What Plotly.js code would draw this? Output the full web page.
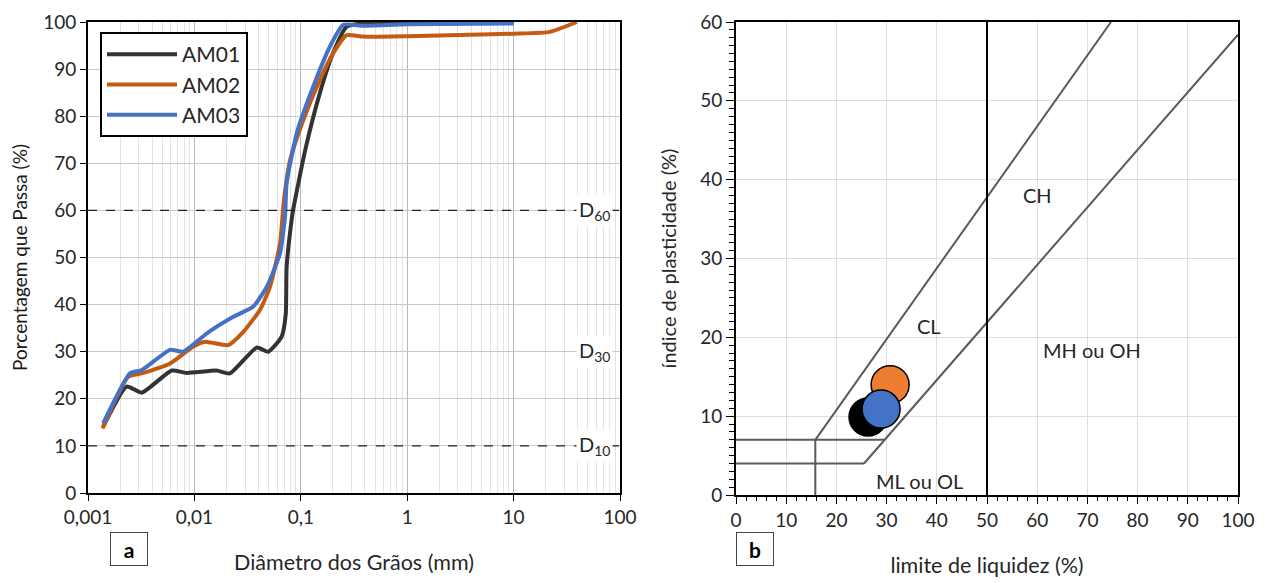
<!DOCTYPE html>
<html><head><meta charset="utf-8">
<script src="https://cdn.plot.ly/plotly-3.0.1.min.js"></script>
<style>html,body{margin:0;padding:0;background:#fff}#chart{width:1265px;height:583px}</style>
</head><body><div id="chart"></div>
<script>
// ---- Panel a: grain size distribution ----
const am01_d = [0.00139, 0.00231, 0.0032, 0.00612, 0.00847, 0.0162, 0.0216, 0.0386, 0.0496, 0.0661, 0.0722, 0.0736, 0.082, 0.0845, 0.11, 0.151, 0.201, 0.27, 0.4, 1, 10];
const am01_p = [14.1, 22.6, 21.3, 26.0, 25.5, 26.0, 25.4, 30.9, 30.0, 33.2, 38.0, 48, 58, 60, 72.8, 84.9, 93.4, 99.0, 99.8, 100, 100];
const am02_d = [0.00137, 0.00239, 0.0032, 0.0059, 0.00977, 0.0126, 0.0208, 0.0288, 0.0414, 0.0514, 0.0638, 0.0694, 0.0794, 0.1057, 0.151, 0.2018, 0.27, 0.386, 1, 10, 22, 39.2];
const am02_p = [13.7, 24.7, 25.4, 27.5, 31.1, 32.1, 31.4, 34.2, 38.9, 43.8, 53.0, 62.2, 70.7, 79.2, 87.7, 93.4, 97.2, 96.9, 97.0, 97.5, 97.9, 100];
const am03_d = [0.00139, 0.00248, 0.0032, 0.0059, 0.00787, 0.0131, 0.0232, 0.0358, 0.0479, 0.0638, 0.0711, 0.0736, 0.0916, 0.131, 0.188, 0.251, 0.386, 1, 10];
const am03_p = [14.8, 25.4, 26.1, 30.4, 30.0, 33.9, 37.4, 39.6, 43.8, 50.9, 58.7, 65.8, 76.4, 86.3, 94.8, 99.4, 99.2, 99.5, 99.7];
const sampleNames = ['AM01', 'AM02', 'AM03'];
const sampleColors = ['#333333', '#c55a11', '#4472c4'];
const xTickVals = [0.001, 0.01, 0.1, 1, 10, 100];
const xTickText = ['0,001', '0,01', '0,1', '1', '10', '100'];
const dLevels = [60, 30, 10];
const dLabels = ['D<sub>60</sub>', 'D<sub>30</sub>', 'D<sub>10</sub>'];

// ---- Panel b: plasticity chart ----
const ll = [26.3, 30.7, 28.9];   // limite de liquidez
const ip = [9.9, 14.0, 10.9];    // indice de plasticidade
const pointColors = ['#000000', '#ed7d31', '#4472c4'];
const uLine_x = [15.8, 74.7], uLine_y = [7, 60];
const aLine_x = [25.5, 100], aLine_y = [4, 58.4];
const h7_x = [0, 29.6], h7_y = [7, 7];
const h4_x = [0, 25.5], h4_y = [4, 4];
const v16_x = [15.8, 15.8], v16_y = [0, 7];
const v50_x = [50, 50], v50_y = [0, 60];
const regionNames = ['CH', 'CL', 'MH ou OH', 'ML ou OL'];
const regionLL = [60, 38.5, 71, 36.5];
const regionIP = [38, 21.5, 18.4, 1.8];

const F = 'Lato, "Open Sans", sans-serif';
const TC = '#262626';

const traces = [];
const curvesD = [am01_d, am02_d, am03_d], curvesP = [am01_p, am02_p, am03_p];
for (let i = 0; i < 3; i++) {
  traces.push({x: curvesD[i], y: curvesP[i], name: sampleNames[i], type: 'scatter', mode: 'lines',
    line: {color: sampleColors[i], width: 4, shape: 'spline', smoothing: 0.5}, xaxis: 'x', yaxis: 'y'});
}
const refLines = [[uLine_x, uLine_y, '#5a5a5a'], [aLine_x, aLine_y, '#5a5a5a'], [h7_x, h7_y, '#5a5a5a'],
  [h4_x, h4_y, '#5a5a5a'], [v16_x, v16_y, '#5a5a5a'], [v50_x, v50_y, '#000000']];
refLines.forEach(r => traces.push({x: r[0], y: r[1], type: 'scatter', mode: 'lines', showlegend: false,
  hoverinfo: 'skip', line: {color: r[2], width: 2}, xaxis: 'x2', yaxis: 'y2'}));
for (let i = 0; i < 3; i++) {
  traces.push({x: [ll[i]], y: [ip[i]], type: 'scatter', mode: 'markers', showlegend: false, name: sampleNames[i],
    marker: {size: 38, color: pointColors[i], line: {color: '#000', width: 1.5}}, xaxis: 'x2', yaxis: 'y2'});
}

const annotations = [];
dLevels.forEach((lv, i) => annotations.push({xref: 'x', yref: 'y', x: Math.log10(58), y: lv, text: dLabels[i],
  showarrow: false, bgcolor: '#fff', font: {family: F, size: 20, color: TC}, borderpad: 2}));
regionNames.forEach((n, i) => annotations.push({xref: 'x2', yref: 'y2', x: regionLL[i], y: regionIP[i], text: n,
  showarrow: false, font: {family: F, size: 20, color: TC}}));
annotations.push({xref: 'paper', yref: 'paper', x: 110/1265, y: 1 - 566/583, text: '<b>a</b>', showarrow: false,
  width: 34, height: 30, bordercolor: '#444', borderwidth: 1, font: {family: F, size: 21, color: '#000'}});
annotations.push({xref: 'paper', yref: 'paper', x: 755/1265, y: 1 - 566/583, text: '<b>b</b>', showarrow: false,
  width: 34, height: 30, bordercolor: '#444', borderwidth: 1, font: {family: F, size: 21, color: '#000'}});

const shapes = [10, 60].map(lv => ({type: 'line', xref: 'x domain', yref: 'y', x0: 0, x1: 1, y0: lv, y1: lv,
  line: {color: '#222', width: 1.2, dash: 'dash'}, layer: 'above'}));

const axBase = {showline: true, linecolor: '#000', linewidth: 2, mirror: true, ticks: 'outside', tickcolor: '#000',
  tickfont: {family: F, size: 19, color: TC}, zeroline: false};

const layout = {
  width: 1265, height: 583, margin: {l: 0, r: 0, t: 0, b: 0}, paper_bgcolor: '#fff', plot_bgcolor: '#fff',
  font: {family: F, color: TC},
  xaxis: Object.assign({}, axBase, {type: 'log', domain: [88/1265, 620/1265], range: [-3, 2], anchor: 'y',
    tickvals: xTickVals, ticktext: xTickText, ticklen: 6, gridcolor: '#b8b8b8', gridwidth: 1,
    minor: {dtick: 'D1', showgrid: true, gridcolor: '#e2e2e2', gridwidth: 1, ticks: ''},
    title: {text: 'Diâmetro dos Grãos (mm)', font: {family: F, size: 21.5, color: TC}, standoff: 28}}),
  yaxis: Object.assign({}, axBase, {domain: [1 - 493/583, 1 - 22/583], range: [0, 100], dtick: 10, anchor: 'x',
    ticklen: 6, gridcolor: '#c8c8c8',
    title: {text: 'Porcentagem que Passa (%)', font: {family: F, size: 19, color: '#1a1a1a'}, standoff: 10}}),
  xaxis2: Object.assign({}, axBase, {domain: [736/1265, 1238/1265], range: [0, 100], dtick: 10, anchor: 'y2',
    ticklen: 7, gridcolor: '#dedede', minor: {dtick: 2, ticks: 'outside', ticklen: 4, tickcolor: '#000', showgrid: false},
    title: {text: 'limite de liquidez (%)', font: {family: F, size: 21.5, color: TC}, standoff: 28}}),
  yaxis2: Object.assign({}, axBase, {domain: [1 - 495/583, 1 - 22/583], range: [0, 60], dtick: 10, anchor: 'x2',
    ticklen: 8, gridcolor: '#dedede', minor: {dtick: 1, ticks: 'outside', ticklen: 5, tickcolor: '#000', showgrid: false},
    title: {text: 'índice de plasticidade (%)', font: {family: F, size: 20, color: TC}, standoff: 18}}),
  showlegend: true,
  legend: {x: 100/1265, y: 1 - 32/583, xanchor: 'left', yanchor: 'top', bgcolor: '#fff', bordercolor: '#000',
    borderwidth: 2, font: {family: F, size: 21, color: TC}, tracegroupgap: 0, itemwidth: 70},
  annotations: annotations, shapes: shapes
};
Plotly.newPlot('chart', traces, layout, {staticPlot: true});
</script></body></html>
